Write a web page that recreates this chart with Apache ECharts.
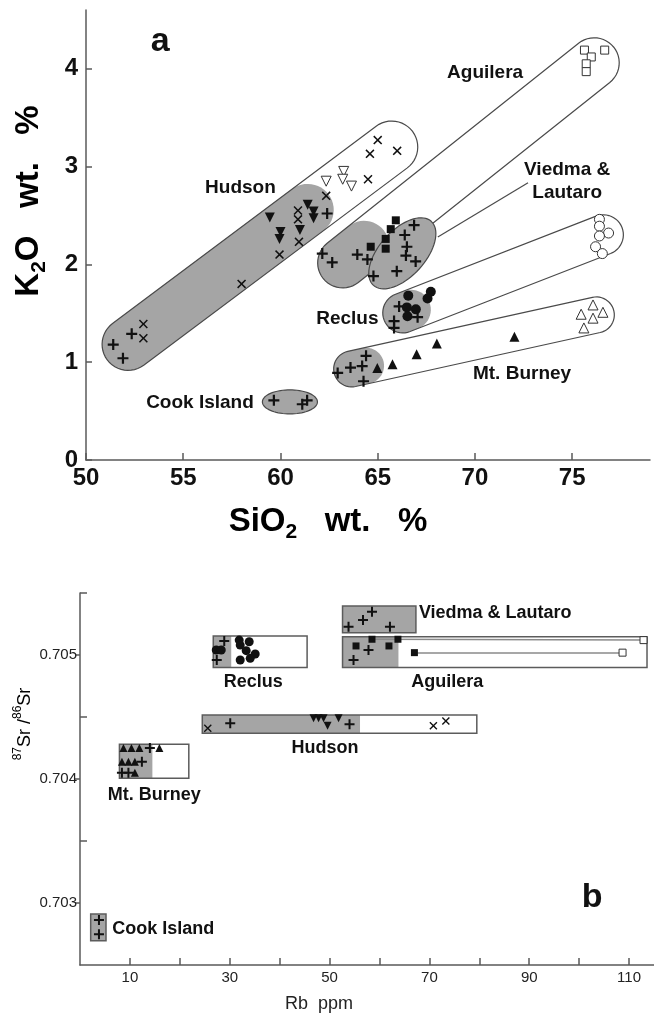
<!DOCTYPE html>
<html>
<head>
<meta charset="utf-8">
<script src="https://cdn.jsdelivr.net/npm/echarts@6/dist/echarts.min.js"></script>
<style>
html,body{margin:0;padding:0;background:#fff;}
#chart{width:654px;height:1017px;}
</style>
</head>
<body>
<div id="chart"></div>
<script>
// ---------------- Panel a : K2O vs SiO2 ----------------
const aXTicks = [50, 55, 60, 65, 70, 75];
const aYTicks = [0, 1, 2, 3, 4];

const hudsonPlus = [[51.4,1.18],[51.9,1.04],[52.35,1.29],[62.4,2.52]];
const hudsonX = [[52.95,1.39],[52.95,1.245],[58.0,1.80],[59.95,2.10],[60.95,2.23],[60.9,2.55],[60.9,2.46],[62.35,2.70],[64.5,2.87],[64.6,3.13],[65.0,3.27],[66.0,3.16]];
const hudsonTriDown = [[59.45,2.48],[61.4,2.61],[61.7,2.54],[61.7,2.47],[60.0,2.33],[59.95,2.26],[61.0,2.35]];
const hudsonTriDownOpen = [[62.35,2.85],[63.25,2.95],[63.2,2.87],[63.65,2.80]];
const aguileraPlus = [[62.15,2.11],[62.66,2.02],[63.95,2.10],[64.47,2.05]];
const aguileraSq = [[64.64,2.18],[65.41,2.16],[65.41,2.26],[65.67,2.36],[65.93,2.45]];
const aguileraSqOpen = [[75.63,4.19],[75.98,4.12],[75.72,4.05],[75.72,3.97],[76.67,4.19]];
const viedmaPlus = [[66.87,2.40],[66.39,2.30],[66.5,2.18],[66.45,2.09],[66.95,2.03],[65.98,1.93],[64.78,1.88]];
const reclusPlus = [[66.1,1.57],[67.05,1.46],[65.84,1.42],[65.84,1.35]];
const reclusDot = [[66.57,1.68],[67.73,1.72],[67.56,1.65],[66.5,1.56],[66.96,1.54],[66.53,1.47]];
const reclusDotOpen = [[76.4,2.46],[76.4,2.39],[76.87,2.32],[76.4,2.29],[76.2,2.18],[76.55,2.11]];
const burneyPlus = [[62.94,0.89],[63.6,0.945],[64.2,0.96],[64.4,1.065],[64.27,0.805]];
const burneyTri = [[64.98,0.94],[65.76,0.98],[67.0,1.08],[68.04,1.19],[72.03,1.26]];
const burneyTriOpen = [[76.07,1.585],[75.46,1.49],[76.07,1.45],[76.58,1.51],[75.6,1.35]];
const cookPlus = [[59.66,0.61],[61.12,0.57],[61.37,0.61]];

// capsule fields: [x1, y1, x2, y2 (centre line ends), half width (K2O units), end of grey part (SiO2)]
const capsulesA = [
  [52.165,1.182,65.72,3.199,0.266,61.4],   // Hudson
  [63.2,2.015,76.13,4.06,0.256,64.3],      // Aguilera
  [66.29,1.504,76.6,2.302,0.205,66.7],     // Reclus
  [63.66,0.931,76.24,1.483,0.184,64.4]     // Mt. Burney
];
// ellipse fields: [x1, y1, x2, y2 (major axis ends), semi-minor (K2O units)]
const ellipsesA = [
  [64.78,1.785,67.75,2.44,0.235],          // Viedma & Lautaro
  [59.07,0.594,61.9,0.594,0.123]           // Cook Island
];
const leaderA = [[68.09,2.28],[72.73,2.834]];
const labelsA = [
  {name:'Hudson', value:[57.94,2.783]},
  {name:'Aguilera', value:[70.52,3.959]},
  {name:'Viedma &\nLautaro', value:[74.74,2.854]},
  {name:'Reclus', value:[63.44,1.439]},
  {name:'Mt. Burney', value:[72.42,0.88]},
  {name:'Cook Island', value:[55.86,0.586]}
];
const panelLetterA = [{name:'a', value:[53.81,4.276]}];

// ---------------- Panel b : 87Sr/86Sr vs Rb ----------------
const bXTicks = [10,20,30,40,50,60,70,80,90,100,110];
const bXLabels = [10,30,50,70,90,110];
const bYLabels = [0.703,0.704,0.705];
const bYMinor = [0.7035,0.7045,0.7055];

// boxes: [Rb min, Rb max, grey part end, Sr min, Sr max]
const boxesB = [
  [7.9,21.8,14.5,0.704006,0.70428],        // Mt. Burney
  [26.7,45.5,30.3,0.7049,0.705153],        // Reclus
  [24.5,79.5,56.1,0.704369,0.704516],      // Hudson
  [52.6,67.3,67.3,0.70518,0.705395],       // Viedma & Lautaro
  [52.6,113.6,63.8,0.7049,0.705148],       // Aguilera
  [2.14,5.21,5.21,0.702696,0.702911]       // Cook Island
];
const bBurneyTri = [[8.7,0.70425],[10.3,0.70425],[11.9,0.70425],[15.9,0.70425],[8.4,0.70414],[9.7,0.70414],[11.0,0.70414],[11.0,0.70405]];
const bBurneyPlus = [[14.0,0.70425],[12.4,0.70414],[8.4,0.70405],[9.7,0.70405]];
const bReclusPlus = [[28.9,0.705113],[27.4,0.70496]];
const bReclusDot = [[27.3,0.70504],[28.3,0.70504],[31.9,0.70512],[32.1,0.70508],[33.9,0.705107],[33.3,0.705035],[35.1,0.705008],[34.1,0.704973],[32.1,0.70496]];
const bHudsonX = [[25.6,0.704409],[70.8,0.70443],[73.3,0.704468]];
const bHudsonPlus = [[30.1,0.704449],[54.0,0.704441]];
const bHudsonTri = [[46.8,0.70449],[47.8,0.70449],[48.8,0.70449],[49.6,0.70443],[51.8,0.70449]];
const bViedmaPlus = [[53.8,0.705228],[56.7,0.705282],[58.5,0.705349],[62.1,0.705228]];
const bAguileraSq = [[55.3,0.705073],[58.5,0.705127],[61.9,0.705073],[63.7,0.705127],[67.0,0.705019]];
const bAguileraPlus = [[57.8,0.70504],[54.8,0.70496]];
const bAguileraSqOpen = [[112.9,0.70512],[108.7,0.705019]];
const bTieLines = [[[58.5,0.705127],[112.9,0.70512]],[[67.0,0.705019],[108.7,0.705019]]];
const bCookPlus = [[3.8,0.702863],[3.8,0.702748]];
const labelsB = [
  {name:'Viedma & Lautaro', value:[67.9,0.705339], label:{align:'left'}},
  {name:'Aguilera', value:[73.6,0.704785]},
  {name:'Reclus', value:[34.7,0.704785]},
  {name:'Hudson', value:[49.1,0.704248]},
  {name:'Mt. Burney', value:[14.9,0.703871]},
  {name:'Cook Island', value:[6.47,0.702788], label:{align:'left'}}
];
const panelLetterB = [{name:'b', value:[102.6,0.70304]}];

// ---------------- styles / helpers ----------------
const FONT = '"Liberation Sans", Arial, Helvetica, sans-serif';
const GRAY = '#a5a5a5';
const EDGE = '#4a4a4a';
const AXIS = '#5a5a5a';
const INK = '#111';
const PLUS = 'path://M4,0H6V4H10V6H6V10H4V6H0V4H4Z';
const CROSS = 'path://M0,1.2L1.2,0L5,3.8L8.8,0L10,1.2L6.2,5L10,8.8L8.8,10L5,6.2L1.2,10L0,8.8L3.8,5Z';

function capsule(p1, p2, r) {
  const ang = Math.atan2(p2[1]-p1[1], p2[0]-p1[0]);
  const n = 24, pts = [];
  for (let i=0;i<=n;i++){ const t = ang - Math.PI/2 + Math.PI*i/n; pts.push([p2[0]+r*Math.cos(t), p2[1]+r*Math.sin(t)]); }
  for (let i=0;i<=n;i++){ const t = ang + Math.PI/2 + Math.PI*i/n; pts.push([p1[0]+r*Math.cos(t), p1[1]+r*Math.sin(t)]); }
  return pts;
}
function capsuleGray(params, api) {
  const x1=api.value(0), y1=api.value(1), x2=api.value(2), y2=api.value(3), hw=api.value(4), xg=api.value(5);
  const yg = y1 + (y2-y1)*(xg-x1)/(x2-x1);
  const r = api.size([0, hw])[1];
  return {type:'polygon', shape:{points:capsule(api.coord([x1,y1]), api.coord([xg,yg]), r)}, style:{fill:GRAY, stroke:null}};
}
function capsuleEdge(params, api) {
  const r = api.size([0, api.value(4)])[1];
  return {type:'polygon', shape:{points:capsule(api.coord([api.value(0),api.value(1)]), api.coord([api.value(2),api.value(3)]), r)},
          style:{fill:'none', stroke:EDGE, lineWidth:1.2}};
}
function ellipseItem(params, api) {
  const p1 = api.coord([api.value(0),api.value(1)]), p2 = api.coord([api.value(2),api.value(3)]);
  const cx=(p1[0]+p2[0])/2, cy=(p1[1]+p2[1])/2;
  const a = Math.hypot(p2[0]-p1[0], p2[1]-p1[1])/2;
  const b = api.size([0, api.value(4)])[1];
  const A = Math.atan2(p2[1]-p1[1], p2[0]-p1[0]);
  const pts=[];
  for (let i=0;i<72;i++){ const t=2*Math.PI*i/72;
    pts.push([cx + a*Math.cos(t)*Math.cos(A) - b*Math.sin(t)*Math.sin(A), cy + a*Math.cos(t)*Math.sin(A) + b*Math.sin(t)*Math.cos(A)]); }
  return {type:'polygon', shape:{points:pts}, style:{fill:GRAY, stroke:EDGE, lineWidth:1.2}};
}
function boxItem(params, api) {
  const x0=api.value(0), x1=api.value(1), g=api.value(2), y0=api.value(3), y1=api.value(4);
  const tl = api.coord([x0,y1]), br = api.coord([x1,y0]), gb = api.coord([g,y0]);
  return {type:'group', children:[
    {type:'rect', shape:{x:tl[0], y:tl[1], width:gb[0]-tl[0], height:br[1]-tl[1]}, style:{fill:GRAY}},
    {type:'rect', shape:{x:tl[0], y:tl[1], width:br[0]-tl[0], height:br[1]-tl[1]}, style:{fill:'none', stroke:'#5c5c5c', lineWidth:1.5}}
  ]};
}
function pts(data, grid, symbol, size, filled, extra) {
  return Object.assign({
    type:'scatter', xAxisIndex:grid, yAxisIndex:grid, data:data, symbol:symbol, symbolSize:size, silent:true, z:5,
    itemStyle: filled ? {color:INK, opacity:1} : {color:'#fff', borderColor:'#333', borderWidth:1, opacity:1}
  }, extra||{});
}
function labelSeries(data, grid, size) {
  return {type:'scatter', xAxisIndex:grid, yAxisIndex:grid, data:data, symbolSize:0, silent:true, z:6,
    itemStyle:{opacity:1, color:INK},
    label:{show:true, position:'inside', formatter:'{b}', color:INK, opacity:1, fontFamily:FONT, fontWeight:'bold', fontSize:size, lineHeight:Math.round(size*1.23), align:'center', verticalAlign:'middle'}};
}
const nameRich = {
  a:{fontFamily:FONT, fontWeight:'bold', fontSize:33, color:INK, lineHeight:42},
  s:{fontFamily:FONT, fontWeight:'bold', fontSize:21, color:INK, lineHeight:23, verticalAlign:'bottom'}
};

const chart = echarts.init(document.getElementById('chart'), null, {renderer:'canvas'});
const option = {
  backgroundColor:'#fff',
  animation:false,
  grid:[
    {left:86, top:10, width:564, height:450},
    {left:80, top:593, width:574, height:372}
  ],
  xAxis:[
    {gridIndex:0, type:'value', min:50, max:79, interval:5, splitLine:{show:false},
     axisLine:{lineStyle:{color:AXIS, width:1.5}},
     axisTick:{inside:true, length:7, customValues:aXTicks, lineStyle:{color:AXIS, width:1.5}},
     axisLabel:{customValues:aXTicks, color:INK, fontFamily:FONT, fontWeight:'bold', fontSize:24, margin:6}},
    {gridIndex:1, type:'value', min:0, max:115, interval:10, splitLine:{show:false},
     axisLine:{lineStyle:{color:AXIS, width:1.5}},
     axisTick:{inside:true, length:7, customValues:bXTicks, lineStyle:{color:AXIS, width:1.5}},
     axisLabel:{customValues:bXLabels, color:'#222', fontFamily:FONT, fontSize:15, margin:5}}
  ],
  yAxis:[
    {gridIndex:0, type:'value', min:0, max:4.6, interval:1, splitLine:{show:false},
     axisLine:{lineStyle:{color:AXIS, width:1.5}},
     axisTick:{inside:true, length:6, customValues:aYTicks, lineStyle:{color:AXIS, width:1.5}},
     axisLabel:{customValues:aYTicks, color:INK, fontFamily:FONT, fontWeight:'bold', fontSize:24, margin:8}},
    {gridIndex:1, type:'value', position:'left', min:0.7025, max:0.7055, interval:0.0005, splitLine:{show:false},
     axisLine:{lineStyle:{color:AXIS, width:1.5}},
     axisTick:{inside:false, length:5, customValues:bYLabels, lineStyle:{color:AXIS, width:1.5}},
     axisLabel:{customValues:bYLabels, formatter:v=>v.toFixed(3), color:'#222', fontFamily:FONT, fontSize:15, margin:3}},
    {gridIndex:1, type:'value', position:'left', offset:0, min:0.7025, max:0.7055, interval:0.0005, splitLine:{show:false},
     axisLine:{show:false},
     axisTick:{inside:true, length:7, customValues:bYMinor, lineStyle:{color:AXIS, width:1.5}},
     axisLabel:{show:false}}
  ],
  graphic:[
    {type:'text', x:29, y:201, rotation:Math.PI/2, silent:true,
     style:{text:'{a|K}{s|2}{a|O   wt.   %}', align:'center', verticalAlign:'middle', rich:nameRich}},
    {type:'text', x:328, y:522, silent:true,
     style:{text:'{a|SiO}{s|2}{a|   wt.   %}', align:'center', verticalAlign:'middle', rich:nameRich}},
    {type:'text', x:25, y:724, rotation:Math.PI/2, silent:true,
     style:{text:'{p|87}{n|Sr /}{p|86}{n|Sr}', align:'center', verticalAlign:'middle',
       rich:{n:{fontFamily:FONT, fontSize:18, color:'#222', lineHeight:26},
             p:{fontFamily:FONT, fontSize:12, color:'#222', lineHeight:14, verticalAlign:'top'}}}},
    {type:'text', x:319, y:1004, silent:true,
     style:{text:'Rb  ppm', align:'center', verticalAlign:'middle', fontFamily:FONT, fontSize:18, fill:'#222'}}
  ],
  series:[
    // panel a fields
    {type:'custom', xAxisIndex:0, yAxisIndex:0, data:capsulesA, renderItem:capsuleGray, silent:true, z:1, clip:false},
    {type:'custom', xAxisIndex:0, yAxisIndex:0, data:capsulesA, renderItem:capsuleEdge, silent:true, z:2, clip:false},
    {type:'custom', xAxisIndex:0, yAxisIndex:0, data:ellipsesA, renderItem:ellipseItem, silent:true, z:3, clip:false},
    {type:'line', xAxisIndex:0, yAxisIndex:0, data:leaderA, symbol:'none', silent:true, z:3, lineStyle:{color:EDGE, width:1.2}},
    // panel a points
    pts(hudsonPlus, 0, PLUS, 11, true),
    pts(hudsonX, 0, CROSS, 9, true),
    pts(hudsonTriDown, 0, 'triangle', 10, true, {symbolRotate:180}),
    pts(hudsonTriDownOpen, 0, 'triangle', 10, false, {symbolRotate:180}),
    pts(aguileraPlus, 0, PLUS, 11, true),
    pts(aguileraSq, 0, 'rect', 8, true),
    pts(aguileraSqOpen, 0, 'rect', 8, false),
    pts(viedmaPlus, 0, PLUS, 11, true),
    pts(reclusPlus, 0, PLUS, 11, true),
    pts(reclusDot, 0, 'circle', 10, true),
    pts(reclusDotOpen, 0, 'circle', 10, false),
    pts(burneyPlus, 0, PLUS, 11, true),
    pts(burneyTri, 0, 'triangle', 10, true),
    pts(burneyTriOpen, 0, 'triangle', 10, false),
    pts(cookPlus, 0, PLUS, 11, true),
    labelSeries(labelsA, 0, 19),
    labelSeries(panelLetterA, 0, 34),
    // panel b
    {type:'custom', xAxisIndex:1, yAxisIndex:1, data:boxesB, renderItem:boxItem, silent:true, z:1, clip:false},
    {type:'lines', xAxisIndex:1, yAxisIndex:1, coordinateSystem:'cartesian2d', data:bTieLines.map(c=>({coords:c})), silent:true, z:3,
     lineStyle:{color:'#8a8a8a', width:1.5, opacity:1}},
    pts(bBurneyTri, 1, 'triangle', 8, true),
    pts(bBurneyPlus, 1, PLUS, 10, true),
    pts(bReclusPlus, 1, PLUS, 10, true),
    pts(bReclusDot, 1, 'circle', 9, true),
    pts(bHudsonX, 1, CROSS, 8, true),
    pts(bHudsonPlus, 1, PLUS, 10, true),
    pts(bHudsonTri, 1, 'triangle', 8, true, {symbolRotate:180}),
    pts(bViedmaPlus, 1, PLUS, 10, true),
    pts(bAguileraSq, 1, 'rect', 7, true),
    pts(bAguileraPlus, 1, PLUS, 10, true),
    pts(bAguileraSqOpen, 1, 'rect', 7, false),
    pts(bCookPlus, 1, PLUS, 10, true),
    labelSeries(labelsB, 1, 18),
    labelSeries(panelLetterB, 1, 34)
  ]
};
chart.setOption(option);
</script>
</body>
</html>
